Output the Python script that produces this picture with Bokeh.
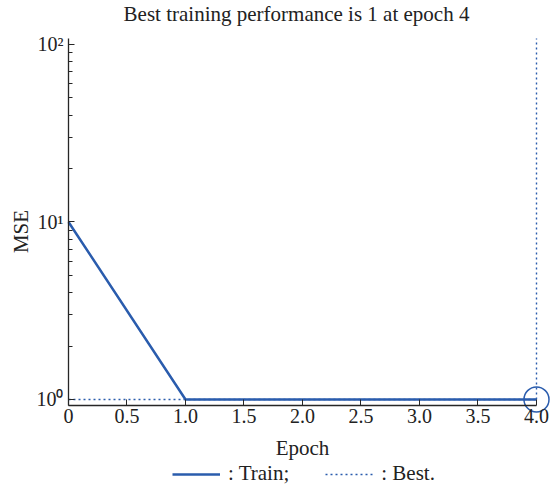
from bokeh.plotting import figure
from bokeh.models import Range1d, Legend, LegendItem, FixedTicker, Label
from bokeh.embed import file_html
from bokeh.resources import INLINE

# Training record
epochs = [0, 1, 2, 3, 4]
train_mse = [10, 1, 1, 1, 1]
best_epoch = 4
best_mse = 1

x_ticks = [0, 0.5, 1.0, 1.5, 2.0, 2.5, 3.0, 3.5, 4.0]
x_tick_labels = ["0", "0.5", "1.0", "1.5", "2.0", "2.5", "3.0", "3.5", "4.0"]
y_ticks = [1, 10, 100]
y_tick_labels = ["10\u2070", "10\u00b9", "10\u00b2"]

title_text = "Best training performance is 1 at epoch 4"

FONT = "Liberation Serif"
FS = "21px"
TICK_FS = "20px"
BLUE = "#2a5cad"
AXIS = "#262626"
TEXT = "#222222"

# axes span (data); the frame range is wider so that the title,
# tick labels, axis labels and legend all sit inside the frame
X_LO, X_HI = 0, 4.0
Y_LO, Y_HI = 0.925, 108
p = figure(width=550, height=486, y_axis_type="log",
           x_range=Range1d(-0.5812, 4.1197), y_range=Range1d(0.3234, 176.8),
           output_backend="svg", toolbar_location=None,
           min_border_left=0, min_border_right=0,
           min_border_top=0, min_border_bottom=0)
p.frame_width = 550
p.frame_height = 486
p.grid.visible = False
p.outline_line_color = None
p.background_fill_color = "white"

# axes
for ax in (p.xaxis[0], p.yaxis[0]):
    ax.axis_line_color = AXIS
    ax.axis_line_width = 1.3
    ax.major_tick_line_color = AXIS
    ax.minor_tick_line_color = AXIS
    ax.major_tick_out = 0
    ax.major_tick_in = 6
    ax.minor_tick_out = 0
    ax.minor_tick_in = 4
    ax.major_label_text_font = FONT
    ax.major_label_text_font_size = TICK_FS
    ax.major_label_text_color = TEXT
    ax.axis_label_text_font = FONT
    ax.axis_label_text_font_style = "normal"
    ax.axis_label_text_font_size = FS
    ax.axis_label_text_color = TEXT

xa = p.xaxis[0]
xa.ticker = FixedTicker(ticks=x_ticks)
xa.major_label_overrides = {t: s for t, s in zip(x_ticks, x_tick_labels)}
xa.bounds = (X_LO, X_HI)
xa.fixed_location = Y_LO
xa.major_label_standoff = 4

ya = p.yaxis[0]
ya.ticker.num_minor_ticks = 10
ya.bounds = (Y_LO, Y_HI)
ya.fixed_location = X_LO
ya.major_label_overrides = {t: s for t, s in zip(y_ticks, y_tick_labels)}
ya.major_label_standoff = 5

# curves
train = p.line(epochs, train_mse, line_color=BLUE, line_width=2.5)
best_h = p.line([epochs[0], best_epoch], [best_mse, best_mse], line_color=BLUE,
                line_width=1.4, line_dash="2 3")
p.line([best_epoch, best_epoch], [best_mse, Y_HI], line_color=BLUE,
       line_width=1.4, line_dash="2 3")
p.scatter([best_epoch], [best_mse], size=25, marker="circle",
          fill_color=None, line_color=BLUE, line_width=1.5)

# title and axis labels
p.add_layout(Label(x=296, y=473, x_units="screen", y_units="screen",
                   text=title_text, text_font=FONT, text_font_size=FS,
                   text_color=TEXT, text_align="center",
                   text_baseline="middle"))
p.add_layout(Label(x=302, y=39, x_units="screen", y_units="screen",
                   text="Epoch", text_font=FONT, text_font_size=FS,
                   text_color=TEXT, text_align="center",
                   text_baseline="middle"))
p.add_layout(Label(x=20, y=255, x_units="screen", y_units="screen",
                   text="MSE", text_font=FONT, text_font_size=FS,
                   text_color=TEXT, text_align="center",
                   text_baseline="middle", angle=90, angle_units="deg"))

legend = Legend(items=[LegendItem(label=": Train;", renderers=[train]),
                       LegendItem(label=": Best.", renderers=[best_h])],
                orientation="horizontal", location=(172, 0),
                glyph_width=48, glyph_height=18, label_standoff=8, spacing=36,
                padding=0, margin=0, border_line_color=None,
                background_fill_alpha=0, label_height=18,
                label_text_font=FONT, label_text_font_size=FS,
                label_text_color=TEXT)
p.add_layout(legend, "center")

open("out.html", "w").write(file_html(p, INLINE))
